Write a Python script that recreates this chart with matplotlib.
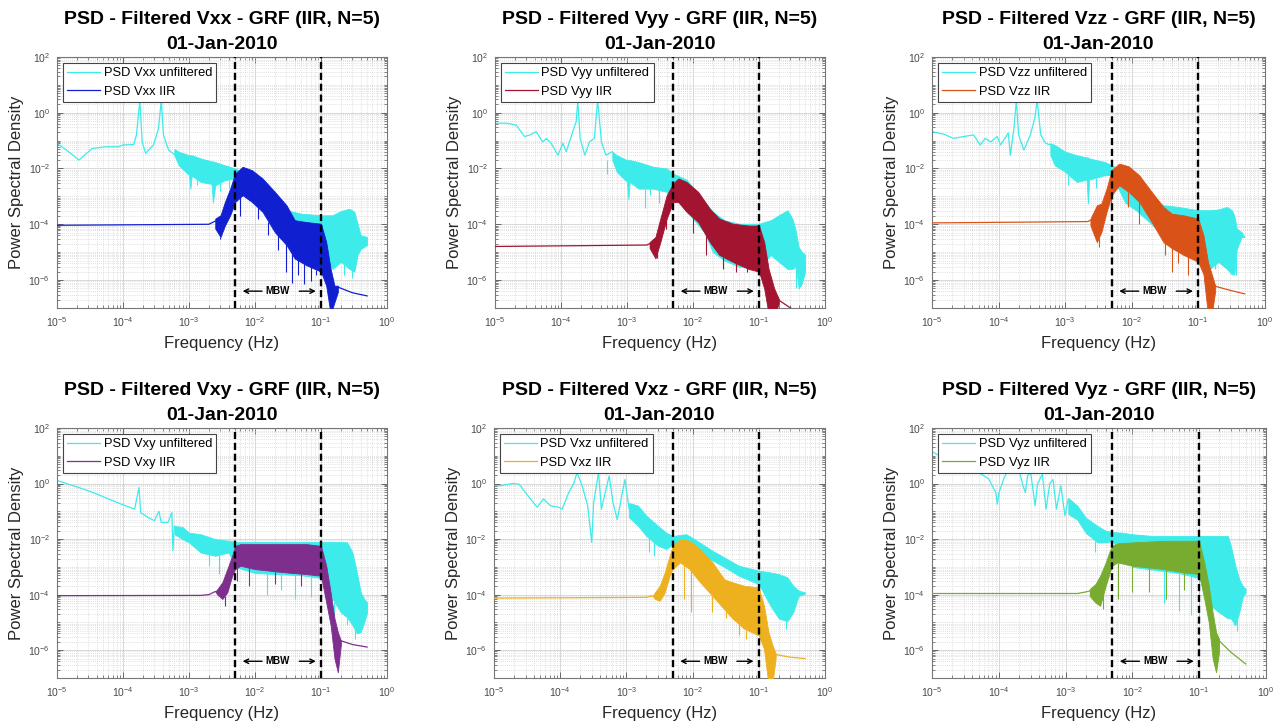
import numpy as np
import matplotlib
matplotlib.use("Agg")
import matplotlib.pyplot as plt
from matplotlib.ticker import FixedLocator, LogFormatterMathtext, NullFormatter

plt.rcParams["font.family"] = ["Liberation Sans", "DejaVu Sans"]
plt.rcParams["mathtext.fontset"] = "custom"
plt.rcParams["mathtext.rm"] = "Liberation Sans"
plt.rcParams["mathtext.it"] = "Liberation Sans:italic"
plt.rcParams["mathtext.bf"] = "Liberation Sans:bold"

# ---------------------------------------------------------------------------
# Spectra (frequency in Hz, PSD values). "line" = resolved low-frequency trace,
# "band" = dense high-resolution part given as upper / lower envelopes,
# "dip" = isolated deep notches below the band.
# ---------------------------------------------------------------------------
MBW_EDGES = [0.005, 0.1]
DATE = "01-Jan-2010"
CYAN = "#3EEBEB"

# --- Vxx ---
vxx_raw_f = [1.0e-5, 1.5e-5, 2.15e-5, 3.4e-5, 5.4e-5, 8.5e-5, 1.0e-4, 1.45e-4, 1.6e-4, 1.8e-4,
             1.95e-4, 2.2e-4, 2.9e-4, 3.45e-4, 3.8e-4, 4.1e-4, 4.9e-4, 6.2e-4]
vxx_raw_p = [0.08, 0.04, 0.02, 0.052, 0.06, 0.06, 0.07, 0.072, 0.16, 2.8,
             0.09, 0.035, 0.07, 0.27, 2.8, 0.16, 0.046, 0.03]
vxx_rawband_f = [6e-4, 7e-4, 1e-3, 1.05e-3, 1.1e-3, 1.5e-3, 2.2e-3, 2.3e-3, 2.5e-3, 3.5e-3, 5e-3, 8e-3,
                 0.015, 0.02, 0.03, 0.05, 0.1, 0.15, 0.2, 0.27, 0.32, 0.36, 0.4, 0.5]
vxx_rawband_hi = [0.05, 0.04, 0.03, 0.03, 0.03, 0.023, 0.018, 0.018, 0.017, 0.013, 0.01, 0.006,
                  1.1e-3, 5.5e-4, 3.2e-4, 2.4e-4, 2.1e-4, 2.1e-4, 3e-4, 3.6e-4, 2.8e-4, 1e-4, 4e-5, 3.5e-5]
vxx_rawband_lo = [0.03, 0.013, 0.0058, 1.9e-3, 0.0055, 0.0033, 0.0028, 6e-4, 0.0025, 0.0038, 0.0044, 1.5e-3,
                  3e-4, 1e-4, 3e-5, 1.2e-5, 8e-6, 2.5e-6, 4.5e-6, 2.5e-6, 2e-6, 8e-6, 1.3e-5, 1.8e-5]
vxx_rawdip_f = [1.3e-3, 3e-3, 4e-3, 0.13, 0.22, 0.29, 0.33]
vxx_rawdip_p = [2.5e-3, 1.5e-3, 2e-3, 2e-6, 1.5e-6, 1.2e-6, 2.5e-6]
vxx_iir_f = [1e-5, 2e-3, 2.5e-3]
vxx_iir_p = [9.2e-5, 1e-4, 1.3e-4]
vxx_iirband_f = [2.5e-3, 3e-3, 3.5e-3, 4.2e-3, 5e-3, 6.5e-3, 9e-3, 0.013, 0.02, 0.03, 0.04, 0.06,
                 0.1, 0.12, 0.14, 0.16, 0.18]
vxx_iirband_hi = [1.6e-4, 2.1e-4, 6.3e-4, 1.9e-3, 6.6e-3, 0.0115, 8.7e-3, 4.4e-3, 1.45e-3, 4.8e-4, 1.4e-4,
                  1.2e-4, 1.05e-4, 2.3e-5, 2.5e-6, 6.3e-7, 6.3e-7]
vxx_iirband_lo = [7e-5, 3.5e-5, 9e-5, 2.1e-4, 6.3e-4, 1.1e-3, 6.3e-4, 2.8e-4, 5.2e-5, 1.8e-5, 5.9e-6,
                  3.4e-6, 2e-6, 6.3e-7, 6e-8, 1.6e-7, 3.7e-7]
vxx_iirdip_f = [3.0e-3, 6e-3, 0.011, 0.016, 0.022, 0.029, 0.036, 0.045, 0.055, 0.07, 0.085]
vxx_iirdip_p = [3e-5, 2e-4, 1.5e-4, 4e-5, 1.2e-5, 2e-6, 8e-7, 1.5e-6, 7e-7, 9e-7, 1.5e-6]
vxx_tail_f = [0.18, 0.3, 0.5]
vxx_tail_p = [5.6e-7, 3.5e-7, 2.7e-7]

# --- Vyy ---
vyy_raw_f = [1e-5, 1.5e-5, 2.1e-5, 2.8e-5, 3.4e-5, 4.2e-5, 5.3e-5, 6e-5, 7.1e-5, 9e-5, 1.07e-4, 1.2e-4,
             1.5e-4, 1.7e-4, 1.8e-4, 1.95e-4, 2.3e-4, 2.7e-4, 3.2e-4, 3.6e-4, 4.1e-4, 4.8e-4, 6e-4]
vyy_raw_p = [0.42, 0.42, 0.36, 0.14, 0.16, 0.21, 0.09, 0.12, 0.08, 0.03, 0.08, 0.04,
             0.2, 0.48, 2.8, 0.12, 0.03, 0.09, 0.12, 2.8, 0.09, 0.03, 0.04]
vyy_rawband_f = [6e-4, 7e-4, 1e-3, 1.05e-3, 1.1e-3, 1.5e-3, 2.5e-3, 4e-3, 5e-3, 8e-3, 0.015, 0.02,
                 0.03, 0.05, 0.1, 0.15, 0.2, 0.27, 0.32, 0.36, 0.4, 0.45, 0.5]
vyy_rawband_hi = [0.04, 0.03, 0.02, 0.02, 0.02, 0.017, 0.0115, 0.01, 6.6e-3, 4e-3, 6.3e-4, 2.8e-4,
                  1.4e-4, 1.05e-4, 1.05e-4, 1.4e-4, 2.1e-4, 3.2e-4, 1.6e-4, 6e-5, 1.5e-5, 1e-5, 8e-6]
vyy_rawband_lo = [0.02, 7.6e-3, 3.3e-3, 8e-4, 3.3e-3, 1.9e-3, 1.9e-3, 1.45e-3, 1e-3, 3e-4, 5e-5, 1e-5,
                  5e-6, 3e-6, 2.5e-6, 8e-6, 4.5e-6, 2.5e-6, 2.5e-6, 3e-6, 5e-7, 8e-7, 2e-6]
vyy_rawdip_f = [5e-4, 1.85e-3, 2.2e-3, 3.1e-3, 0.3, 0.36, 0.43]
vyy_rawdip_p = [6.5e-3, 3.7e-4, 1.1e-3, 6e-4, 2.5e-6, 5e-7, 6e-7]
vyy_iir_f = [1e-5, 2e-3, 2.2e-3]
vyy_iir_p = [1.6e-5, 1.8e-5, 2e-5]
vyy_iirband_f = [2.2e-3, 2.7e-3, 3.2e-3, 4e-3, 5e-3, 6e-3, 8e-3, 0.012, 0.018, 0.025, 0.04, 0.07,
                 0.1, 0.12, 0.14, 0.17, 0.2]
vyy_iirband_hi = [2.3e-5, 3.5e-5, 1.6e-4, 1.1e-3, 2.9e-3, 4.4e-3, 3.3e-3, 1.45e-3, 3.6e-4, 1.6e-4, 1.05e-4,
                  9e-5, 9e-5, 2.3e-5, 2.5e-6, 5e-7, 2.1e-7]
vyy_iirband_lo = [1.4e-5, 6e-6, 2.3e-5, 1.6e-4, 6.3e-4, 6.3e-4, 2.8e-4, 1.2e-4, 2.3e-5, 8e-6, 4.5e-6,
                  2.5e-6, 2e-6, 5e-7, 6e-8, 6e-8, 1.4e-7]
vyy_iirdip_f = [2.85e-3, 3.9e-3, 0.01, 0.016, 0.029, 0.045, 0.066]
vyy_iirdip_p = [6e-6, 7e-5, 5e-5, 8e-6, 2.5e-6, 2e-6, 2e-6]
vyy_tail_f = [0.2, 0.3, 0.5]
vyy_tail_p = [1.9e-7, 1e-7, 6e-8]

# --- Vzz ---
vzz_raw_f = [1e-5, 1.5e-5, 2.1e-5, 3e-5, 4.2e-5, 5.3e-5, 6.3e-5, 7.6e-5, 9.5e-5, 1.07e-4, 1.4e-4,
             1.5e-4, 1.7e-4, 1.85e-4, 2e-4, 2.4e-4, 3e-4, 3.5e-4, 3.8e-4, 4.3e-4, 5.1e-4, 6e-4]
vzz_raw_p = [0.21, 0.17, 0.12, 0.14, 0.16, 0.07, 0.12, 0.09, 0.14, 0.07, 0.19,
             0.03, 0.28, 2.8, 0.16, 0.046, 0.16, 0.63, 2.8, 0.16, 0.08, 0.07]
vzz_rawband_f = [6e-4, 7e-4, 1e-3, 1.5e-3, 2.1e-3, 2.2e-3, 2.3e-3, 4e-3, 5e-3, 8e-3, 0.012, 0.02,
                 0.03, 0.05, 0.1, 0.15, 0.2, 0.27, 0.32, 0.35, 0.38, 0.45, 0.5]
vzz_rawband_hi = [0.08, 0.07, 0.04, 0.03, 0.025, 0.025, 0.023, 0.017, 0.013, 0.008, 3.3e-3, 8.3e-4,
                  4.8e-4, 4.2e-4, 3.2e-4, 3.2e-4, 3.4e-4, 4.2e-4, 3.2e-4, 2e-4, 7e-5, 5.2e-5, 3.5e-5]
vzz_rawband_lo = [0.03, 0.013, 7.6e-3, 3.3e-3, 4e-3, 5.5e-4, 4e-3, 5.8e-3, 5.8e-3, 6e-4, 3e-4, 1e-4,
                  4e-5, 1.8e-5, 8e-6, 2.5e-6, 4.5e-6, 2.5e-6, 1.6e-6, 1.6e-6, 1.3e-5, 3.5e-5, 3.5e-5]
vzz_rawdip_f = [1.1e-3, 1.4e-3, 2.9e-3, 0.18, 0.25, 0.37]
vzz_rawdip_p = [2.5e-3, 4e-3, 2e-3, 2.5e-6, 5e-6, 1.5e-6]
vzz_iir_f = [1e-5, 2.2e-3, 2.4e-3]
vzz_iir_p = [1.12e-4, 1.25e-4, 1.4e-4]
vzz_iirband_f = [2.4e-3, 3e-3, 3.5e-3, 4.2e-3, 5e-3, 6.5e-3, 9e-3, 0.013, 0.02, 0.03, 0.04, 0.06,
                 0.1, 0.12, 0.14, 0.16, 0.18]
vzz_iirband_hi = [1.6e-4, 4.8e-4, 5.5e-4, 1.9e-3, 8.7e-3, 0.015, 0.012, 5.7e-3, 1.45e-3, 4.2e-4, 2.4e-4,
                  2.1e-4, 1.6e-4, 4e-5, 4.5e-6, 1.6e-6, 6.3e-7]
vzz_iirband_lo = [9e-5, 2.3e-5, 5.2e-5, 2.8e-4, 1.1e-3, 2.5e-3, 1.45e-3, 6.3e-4, 1.2e-4, 2.3e-5, 1.4e-5,
                  8e-6, 4.5e-6, 1.6e-6, 6e-8, 6e-8, 4e-7]
vzz_iirdip_f = [3.2e-3, 4.9e-3, 8.9e-3, 0.013, 0.032, 0.04, 0.05, 0.07]
vzz_iirdip_p = [1.5e-5, 3e-4, 4e-4, 1e-4, 8e-6, 2e-6, 4e-6, 1.5e-6]
vzz_tail_f = [0.18, 0.3, 0.5]
vzz_tail_p = [6e-7, 4.3e-7, 3.2e-7]

# --- Vxy ---
vxy_raw_f = [1e-5, 3e-5, 9.5e-5, 1.5e-4, 1.75e-4, 1.85e-4, 2.4e-4, 3e-4, 3.5e-4, 3.8e-4, 4.8e-4,
             5.5e-4, 5.7e-4, 6e-4]
vxy_raw_p = [1.3, 0.55, 0.18, 0.12, 0.72, 0.09, 0.06, 0.046, 0.1, 0.04, 0.04, 0.09, 3.8e-3, 0.03]
vxy_rawband_f = [6e-4, 8e-4, 1e-3, 1.5e-3, 2.5e-3, 4e-3, 5e-3, 0.01, 0.05, 0.1, 0.15, 0.2, 0.25,
                 0.3, 0.35, 0.4, 0.45, 0.5]
vxy_rawband_hi = [0.03, 0.027, 0.017, 0.015, 0.01, 8.7e-3, 8e-3, 8e-3, 8e-3, 8e-3, 8e-3, 8e-3, 7.6e-3,
                  3.3e-3, 6.3e-4, 1.2e-4, 7e-5, 5.2e-5]
vxy_rawband_lo = [0.015, 0.01, 7.6e-3, 3.3e-3, 2.5e-3, 3.3e-3, 1e-3, 6e-4, 5e-4, 4e-4, 7e-5, 2.3e-5,
                  1.5e-5, 8e-6, 4e-6, 4.5e-6, 1e-5, 2.3e-5]
vxy_rawdip_f = [2e-3, 2.8e-3, 0.015, 0.025, 0.04, 0.07, 0.16, 0.25, 0.33]
vxy_rawdip_p = [1.1e-3, 5.5e-4, 1e-4, 1.5e-4, 7e-5, 8e-5, 8e-6, 8e-6, 2.5e-6]
vxy_iir_f = [1e-5, 1.5e-3, 2e-3, 2.5e-3]
vxy_iir_p = [9.2e-5, 9.4e-5, 1e-4, 1.3e-4]
vxy_iirband_f = [2.5e-3, 2.7e-3, 3.2e-3, 3.8e-3, 4.5e-3, 5e-3, 6e-3, 0.01, 0.03, 0.06, 0.1, 0.12,
                 0.14, 0.16, 0.18, 0.2]
vxy_iirband_hi = [1.3e-4, 1.6e-4, 2.8e-4, 8.3e-4, 2.5e-3, 5.7e-3, 6.6e-3, 6.6e-3, 6.6e-3, 6.6e-3, 5.7e-3,
                  1.1e-3, 1.2e-4, 1.4e-5, 4.5e-6, 2.2e-6]
vxy_iirband_lo = [1.3e-4, 1e-4, 7e-5, 1.2e-4, 4.8e-4, 8.3e-4, 1.1e-3, 8.3e-4, 6.3e-4, 5.5e-4, 4.8e-4,
                  5.2e-5, 8e-6, 5e-7, 1.6e-7, 1.6e-6]
vxy_iirdip_f = [3.5e-3, 5.3e-3, 0.008, 0.02, 0.05]
vxy_iirdip_p = [4e-5, 3e-4, 2e-4, 2.5e-4, 2e-4]
vxy_tail_f = [0.2, 0.3, 0.5]
vxy_tail_p = [2.2e-6, 1.6e-6, 1.3e-6]

# --- Vxz ---
vxz_raw_f = [1e-5, 1.3e-5, 1.9e-5, 2.4e-5, 3.4e-5, 4.5e-5, 5.6e-5, 7.1e-5, 9.5e-5, 1.07e-4, 1.35e-4,
             1.6e-4, 1.8e-4, 2.15e-4, 2.6e-4, 3e-4, 3.2e-4, 3.8e-4, 4.2e-4, 4.8e-4, 5.5e-4, 6.3e-4,
             7.3e-4, 8.5e-4, 9.5e-4, 1.1e-3]
vxz_raw_p = [0.83, 0.85, 1.0, 0.95, 0.32, 0.14, 0.28, 0.16, 0.14, 0.12, 0.48,
             1.0, 2.5, 0.83, 0.16, 7.6e-3, 0.2, 2.5, 0.12, 0.48, 1.9, 0.2,
             0.05, 0.35, 1.4, 0.12]
vxz_rawband_f = [1.1e-3, 1.5e-3, 2e-3, 3e-3, 4e-3, 5e-3, 8e-3, 0.01, 0.02, 0.03, 0.05, 0.1, 0.15,
                 0.2, 0.27, 0.33, 0.4, 0.5]
vxz_rawband_hi = [0.2, 0.16, 0.07, 0.03, 0.017, 0.013, 0.015, 0.011, 3.8e-3, 2.2e-3, 1.1e-3, 7.3e-4,
                  6.3e-4, 5.5e-4, 4.2e-4, 2.1e-4, 1.4e-4, 1.2e-4]
vxz_rawband_lo = [0.06, 0.03, 0.013, 5.8e-3, 4.4e-3, 6.6e-3, 7e-3, 4.4e-3, 1.7e-3, 1e-3, 4.8e-4, 2.4e-4,
                  4e-5, 1.4e-5, 1.1e-5, 2.3e-5, 9e-5, 1.1e-4]
vxz_rawdip_f = [2.2e-3, 2.6e-3, 0.2, 0.26]
vxz_rawdip_p = [3.3e-3, 2.5e-3, 1.4e-5, 6e-6]
vxz_iir_f = [1e-5, 2e-3, 2.5e-3]
vxz_iir_p = [7.5e-5, 8e-5, 9e-5]
vxz_iirband_f = [2.5e-3, 2.7e-3, 3.2e-3, 3.8e-3, 4.5e-3, 5e-3, 6.5e-3, 9e-3, 0.013, 0.02, 0.03, 0.04,
                 0.06, 0.1, 0.12, 0.14, 0.16, 0.18]
vxz_iirband_hi = [9e-5, 1.2e-4, 2.1e-4, 6.3e-4, 2.5e-3, 5.7e-3, 0.01, 8.7e-3, 4.4e-3, 1.45e-3, 3.6e-4,
                  2.8e-4, 2.1e-4, 1.8e-4, 4e-5, 4.5e-6, 1.6e-6, 7.6e-7]
vxz_iirband_lo = [9e-5, 7e-5, 6e-5, 1.2e-4, 4.8e-4, 8.3e-4, 1.45e-3, 8.3e-4, 2.8e-4, 9e-5, 3e-5,
                  1.4e-5, 6e-6, 3.4e-6, 1.1e-6, 6e-8, 6e-8, 5e-7]
vxz_iirdip_f = [7.5e-3, 9.5e-3, 0.02, 0.032, 0.05, 0.065]
vxz_iirdip_p = [7e-5, 2.3e-5, 2.3e-5, 1.4e-5, 3.5e-6, 2.5e-6]
vxz_tail_f = [0.18, 0.3, 0.5]
vxz_tail_p = [7e-7, 5.6e-7, 5e-7]

# --- Vyz ---
vyz_raw_f = [1e-5, 1.2e-5, 1.6e-5, 2.5e-5, 3.6e-5, 5e-5, 7.1e-5, 9e-5, 9.5e-5, 1.01e-4, 1.2e-4,
             1.32e-4, 1.6e-4, 2e-4, 2.3e-4, 2.5e-4, 2.7e-4, 3e-4, 3.5e-4, 3.8e-4, 4.5e-4, 5.1e-4,
             5.8e-4, 6.5e-4, 7.3e-4, 8.5e-4, 9.8e-4, 1.1e-3]
vyz_raw_p = [14, 11, 8, 5, 3.5, 2.5, 1.45, 0.48, 0.18, 0.48, 1.6,
             2.5, 3.5, 3.3, 0.84, 0.48, 1.9, 2.5, 0.16, 0.95, 2.2, 0.12,
             1.0, 1.4, 0.12, 0.84, 0.07, 0.28]
vyz_rawband_f = [1.1e-3, 1.5e-3, 2e-3, 3e-3, 4e-3, 5e-3, 7e-3, 0.01, 0.02, 0.05, 0.1, 0.15, 0.2,
                 0.27, 0.3, 0.35, 0.4, 0.45, 0.5]
vyz_rawband_hi = [0.3, 0.16, 0.06, 0.03, 0.02, 0.018, 0.017, 0.015, 0.013, 0.013, 0.013, 0.013, 0.013,
                  0.013, 5.7e-3, 1.1e-3, 3.6e-4, 2.1e-4, 1.6e-4]
vyz_rawband_lo = [0.08, 0.05, 0.017, 7.6e-3, 7.6e-3, 8.7e-3, 3e-3, 1e-3, 8e-4, 6e-4, 4e-4, 4e-5,
                  2.3e-5, 1.4e-5, 1.4e-5, 8e-6, 2.3e-5, 8e-5, 1.2e-4]
vyz_rawdip_f = [2.8e-3, 0.03, 0.05, 0.075, 0.1, 0.33, 0.37]
vyz_rawdip_p = [3.3e-3, 5e-5, 2.5e-5, 1.8e-5, 1e-5, 8e-6, 5e-6]
vyz_iir_f = [1e-5, 1.5e-3, 2e-3, 2.3e-3]
vyz_iir_p = [1.1e-4, 1.1e-4, 1.25e-4, 1.35e-4]
vyz_iirband_f = [2.3e-3, 2.8e-3, 3.3e-3, 4e-3, 4.6e-3, 5e-3, 6e-3, 0.01, 0.03, 0.06, 0.1, 0.12,
                 0.14, 0.16, 0.18, 0.2]
vyz_iirband_hi = [1.6e-4, 2.4e-4, 4.8e-4, 1.45e-3, 3.8e-3, 5.7e-3, 7e-3, 7.6e-3, 8.7e-3, 8.7e-3, 8.7e-3,
                  1.45e-3, 2.1e-4, 2.3e-5, 4.5e-6, 2.5e-6]
vyz_iirband_lo = [9e-5, 5.2e-5, 4e-5, 2.1e-4, 6.3e-4, 1.1e-3, 1.45e-3, 1.1e-3, 8.3e-4, 6.3e-4, 5.5e-4,
                  7e-5, 1e-5, 5e-7, 1.6e-7, 9e-7]
vyz_iirdip_f = [3.7e-3, 6.2e-3, 0.01, 0.018, 0.032, 0.06]
vyz_iirdip_p = [3e-5, 7e-5, 1.2e-4, 1.2e-4, 7e-5, 1.5e-4]
vyz_tail_f = [0.2, 0.3, 0.5]
vyz_tail_p = [2.2e-6, 8.5e-7, 3.2e-7]

COMPONENTS = ["Vxx", "Vyy", "Vzz", "Vxy", "Vxz", "Vyz"]
IIR_COLORS = ["#1020D0", "#A2142F", "#D95319", "#7E2F8E", "#EDB120", "#77AC30"]

SPECTRA = {
    "Vxx": dict(raw=(vxx_raw_f, vxx_raw_p), rawband=(vxx_rawband_f, vxx_rawband_hi, vxx_rawband_lo),
                rawdip=(vxx_rawdip_f, vxx_rawdip_p), iir=(vxx_iir_f, vxx_iir_p),
                iirband=(vxx_iirband_f, vxx_iirband_hi, vxx_iirband_lo),
                iirdip=(vxx_iirdip_f, vxx_iirdip_p), tail=(vxx_tail_f, vxx_tail_p)),
    "Vyy": dict(raw=(vyy_raw_f, vyy_raw_p), rawband=(vyy_rawband_f, vyy_rawband_hi, vyy_rawband_lo),
                rawdip=(vyy_rawdip_f, vyy_rawdip_p), iir=(vyy_iir_f, vyy_iir_p),
                iirband=(vyy_iirband_f, vyy_iirband_hi, vyy_iirband_lo),
                iirdip=(vyy_iirdip_f, vyy_iirdip_p), tail=(vyy_tail_f, vyy_tail_p)),
    "Vzz": dict(raw=(vzz_raw_f, vzz_raw_p), rawband=(vzz_rawband_f, vzz_rawband_hi, vzz_rawband_lo),
                rawdip=(vzz_rawdip_f, vzz_rawdip_p), iir=(vzz_iir_f, vzz_iir_p),
                iirband=(vzz_iirband_f, vzz_iirband_hi, vzz_iirband_lo),
                iirdip=(vzz_iirdip_f, vzz_iirdip_p), tail=(vzz_tail_f, vzz_tail_p)),
    "Vxy": dict(raw=(vxy_raw_f, vxy_raw_p), rawband=(vxy_rawband_f, vxy_rawband_hi, vxy_rawband_lo),
                rawdip=(vxy_rawdip_f, vxy_rawdip_p), iir=(vxy_iir_f, vxy_iir_p),
                iirband=(vxy_iirband_f, vxy_iirband_hi, vxy_iirband_lo),
                iirdip=(vxy_iirdip_f, vxy_iirdip_p), tail=(vxy_tail_f, vxy_tail_p)),
    "Vxz": dict(raw=(vxz_raw_f, vxz_raw_p), rawband=(vxz_rawband_f, vxz_rawband_hi, vxz_rawband_lo),
                rawdip=(vxz_rawdip_f, vxz_rawdip_p), iir=(vxz_iir_f, vxz_iir_p),
                iirband=(vxz_iirband_f, vxz_iirband_hi, vxz_iirband_lo),
                iirdip=(vxz_iirdip_f, vxz_iirdip_p), tail=(vxz_tail_f, vxz_tail_p)),
    "Vyz": dict(raw=(vyz_raw_f, vyz_raw_p), rawband=(vyz_rawband_f, vyz_rawband_hi, vyz_rawband_lo),
                rawdip=(vyz_rawdip_f, vyz_rawdip_p), iir=(vyz_iir_f, vyz_iir_p),
                iirband=(vyz_iirband_f, vyz_iirband_hi, vyz_iirband_lo),
                iirdip=(vyz_iirdip_f, vyz_iirdip_p), tail=(vyz_tail_f, vyz_tail_p)),
}

# axes rectangles in figure fractions (left, bottom, width, height)
AX_RECTS = [
    (0.0445, 0.577, 0.2576, 0.3448), (0.3864, 0.577, 0.2576, 0.3448), (0.7276, 0.577, 0.2597, 0.3448),
    (0.0445, 0.0687, 0.2576, 0.3434), (0.3856, 0.0687, 0.2584, 0.3434), (0.7276, 0.0687, 0.2605, 0.3434),
]


def band_floor(freqs, band_f, band_lo):
    """Lower envelope of a band evaluated (log-log) at the given frequencies."""
    return 10 ** np.interp(np.log10(freqs), np.log10(band_f), np.log10(band_lo))


def draw_band(ax, band, dips, color, z):
    bf, bhi, blo = band
    ax.fill_between(bf, blo, bhi, facecolor=color, edgecolor=color, lw=0.6, zorder=z)
    df, dp = dips
    ax.vlines(df, dp, band_floor(df, bf, blo), color=color, lw=0.8, zorder=z)


fig = plt.figure(figsize=(12.81, 7.28), dpi=100)
fig.patch.set_facecolor("white")

x_major = 10.0 ** np.arange(-5, 1)
y_major = 10.0 ** np.arange(-6, 3, 2)
x_minor = [m * 10.0 ** k for k in range(-5, 0) for m in range(2, 10)]
y_minor = [m * 10.0 ** k for k in range(-7, 2) for m in range(1, 10)
           if not (m == 1 and k % 2 == 0)]

for name, color, rect in zip(COMPONENTS, IIR_COLORS, AX_RECTS):
    s = SPECTRA[name]
    ax = fig.add_axes(rect)
    ax.set_xscale("log")
    ax.set_yscale("log")

    # unfiltered spectrum
    draw_band(ax, s["rawband"], s["rawdip"], CYAN, 2)
    ax.plot(*s["raw"], color=CYAN, lw=0.9, zorder=2, label=f"PSD {name} unfiltered")
    # IIR filtered spectrum
    draw_band(ax, s["iirband"], s["iirdip"], color, 3)
    ax.plot(*s["iir"], color=color, lw=0.9, zorder=3, label=f"PSD {name} IIR")
    ax.plot(*s["tail"], color=color, lw=0.9, zorder=3)

    # measurement bandwidth
    for edge in MBW_EDGES:
        ax.axvline(edge, color="black", lw=1.7, ls=(0, (3, 1.6)), zorder=4)
    f_mid = np.sqrt(MBW_EDGES[0] * MBW_EDGES[1])
    y_arr = 4e-7
    arrow = dict(arrowstyle="->", color="black", lw=1.0, mutation_scale=8)
    ax.annotate("", xy=(MBW_EDGES[0] * 1.18, y_arr), xytext=(f_mid * 0.63, y_arr),
                arrowprops=arrow, zorder=5)
    ax.annotate("", xy=(MBW_EDGES[1] * 0.92, y_arr), xytext=(f_mid * 1.9, y_arr),
                arrowprops=arrow, zorder=5)
    ax.text(f_mid, y_arr, "MBW", ha="center", va="center", fontsize=7,
            fontweight="bold", color="black", zorder=5)

    ax.set_xlim(1e-5, 1)
    ax.set_ylim(1e-7, 1e2)
    ax.xaxis.set_major_locator(FixedLocator(x_major))
    ax.yaxis.set_major_locator(FixedLocator(y_major))
    ax.xaxis.set_minor_locator(FixedLocator(x_minor))
    ax.yaxis.set_minor_locator(FixedLocator(y_minor))
    ax.xaxis.set_major_formatter(LogFormatterMathtext())
    ax.yaxis.set_major_formatter(LogFormatterMathtext())
    ax.xaxis.set_minor_formatter(NullFormatter())
    ax.yaxis.set_minor_formatter(NullFormatter())

    ax.grid(True, which="major", color="#d2d2d2", lw=0.6, ls="-", zorder=0)
    ax.grid(True, which="minor", color="#d6d6d6", lw=0.6, ls=(0, (1, 1.5)), zorder=0)
    ax.set_axisbelow(True)
    ax.tick_params(which="both", direction="in", top=True, right=True, colors="#555555",
                   labelcolor="#4a4a4a", labelsize=7.5)
    ax.tick_params(which="major", length=4, width=0.6, pad=5)
    ax.tick_params(which="minor", length=2, width=0.5)
    for sp in ax.spines.values():
        sp.set_color("#777777")
        sp.set_linewidth(0.8)

    ax.set_xlabel("Frequency (Hz)", fontsize=12, color="#262626", labelpad=5)
    ax.set_ylabel("Power Spectral Density", fontsize=12, color="#262626", labelpad=3)
    ax.set_title(f"PSD - Filtered {name} - GRF (IIR, N=5)\n{DATE}", fontsize=14,
                 fontweight="bold", color="black", pad=6, linespacing=1.6)

    leg = ax.legend(loc="upper left", fontsize=9.3, handlelength=2.5, handletextpad=0.3,
                    borderpad=0.35, labelspacing=0.5, borderaxespad=0.45, frameon=True,
                    fancybox=False, framealpha=1, edgecolor="#444444")
    leg.get_frame().set_linewidth(0.8)
    leg.set_zorder(6)

fig.savefig("out.png", dpi=100, facecolor="white")
